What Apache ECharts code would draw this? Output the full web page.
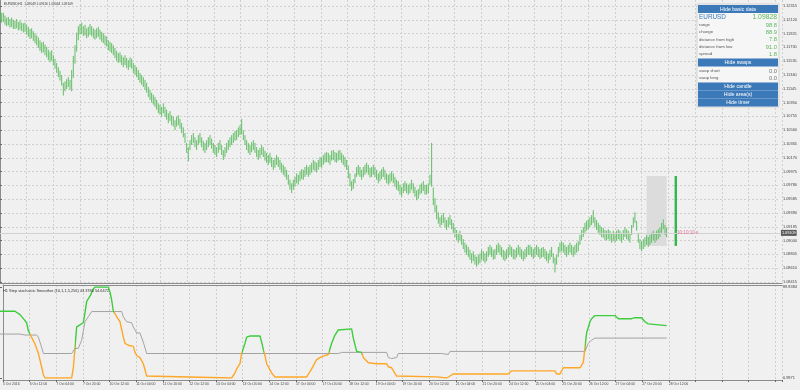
<!DOCTYPE html>
<html><head><meta charset="utf-8">
<script src="https://cdn.jsdelivr.net/npm/echarts@6/dist/echarts.min.js"></script>
<style>html,body{margin:0;padding:0;background:#f0f0f0;}#c{width:800px;height:390px;}</style>
</head><body><div id="c"></div><script>
// ---------------- DATA ----------------
const tickLabels = ['5 Oct 2016','6 Oct 12:00','7 Oct 04:00','7 Oct 20:00','10 Oct 12:00','11 Oct 04:00','11 Oct 20:00','12 Oct 12:00','13 Oct 04:00','13 Oct 20:00','14 Oct 12:00','17 Oct 04:00','17 Oct 20:00','18 Oct 12:00','19 Oct 04:00','19 Oct 20:00','20 Oct 12:00','21 Oct 04:00','21 Oct 20:00','24 Oct 12:00','25 Oct 04:00','25 Oct 20:00','26 Oct 12:00','27 Oct 04:00','27 Oct 20:00','28 Oct 12:00'];
const barsPerLabel = 16;
const priceTickMin = 1.08415, priceTickMax = 1.12315, priceTickStep = 0.00195;
const stochMin = 6.9971, stochMax = 89.8384;

const priceHigh = [
1.1224,1.1222,1.1222,1.1218,1.1215,1.1216,1.1213,1.1215,1.1212,1.1211,1.1213,1.1209,1.1211,1.1208,1.1207,1.1208,
1.1205,1.1202,1.1199,1.1200,1.1196,1.1193,1.1190,1.1187,1.1183,1.1180,1.1181,1.1177,1.1174,1.1170,1.1167,1.1169,
1.1162,1.1157,1.1151,1.1145,1.1140,1.1134,1.1123,1.1125,1.1128,1.1131,1.1127,1.1141,1.1161,1.1176,1.1194,1.1203,
1.1206,1.1208,1.1203,1.1205,1.1200,1.1202,1.1206,1.1203,1.1200,1.1198,1.1200,1.1202,1.1198,1.1195,1.1193,1.1190,
1.1188,1.1183,1.1181,1.1179,1.1176,1.1172,1.1168,1.1165,1.1166,1.1162,1.1159,1.1162,1.1158,1.1155,1.1159,1.1157,
1.1151,1.1148,1.1145,1.1141,1.1137,1.1134,1.1131,1.1127,1.1123,1.1117,1.1113,1.1109,1.1106,1.1103,1.1099,1.1094,
1.1092,1.1089,1.1094,1.1089,1.1085,1.1080,1.1083,1.1077,1.1075,1.1070,1.1075,1.1077,1.1072,1.1066,1.1060,1.1052,
1.1038,1.1032,1.1042,1.1049,1.1052,1.1046,1.1042,1.1049,1.1052,1.1046,1.1041,1.1038,1.1042,1.1046,1.1049,1.1044,
1.1038,1.1035,1.1032,1.1038,1.1042,1.1035,1.1028,1.1032,1.1038,1.1042,1.1046,1.1049,1.1052,1.1055,1.1056,1.1060,
1.1063,1.1072,1.1056,1.1049,1.1042,1.1038,1.1035,1.1039,1.1042,1.1038,1.1032,1.1028,1.1031,1.1035,1.1032,1.1027,
1.1024,1.1021,1.1024,1.1018,1.1014,1.1017,1.1021,1.1018,1.1014,1.1010,1.1007,1.1004,1.1000,1.0993,1.0986,1.0981,
1.0986,1.0990,1.0995,1.0993,1.0998,1.1001,1.1000,1.1004,1.1007,1.1004,1.1007,1.1010,1.1014,1.1012,1.1010,1.1014,
1.1018,1.1017,1.1021,1.1024,1.1025,1.1024,1.1021,1.1027,1.1028,1.1025,1.1024,1.1027,1.1028,1.1024,1.1021,1.1018,
1.1014,1.1006,1.0995,1.0984,1.0987,1.0995,1.1004,1.1007,1.1004,1.1000,1.1004,1.1007,1.1010,1.1007,1.1003,1.1004,
1.1007,1.1004,1.1000,1.0995,1.0998,1.1001,1.1004,1.1000,1.0995,1.0993,1.0995,1.0998,1.0995,1.0990,1.0986,1.0984,
1.0979,1.0976,1.0981,1.0984,1.0981,1.0979,1.0981,1.0986,1.0981,1.0976,1.0971,1.0973,1.0979,1.0981,1.0984,1.0979,
1.0979,1.0981,1.0993,1.1038,1.0975,1.0960,1.0950,1.0940,1.0933,1.0936,1.0939,1.0933,1.0929,1.0933,1.0936,1.0930,
1.0925,1.0919,1.0915,1.0911,1.0914,1.0908,1.0902,1.0897,1.0894,1.0891,1.0887,1.0882,1.0885,1.0880,1.0877,1.0880,
1.0882,1.0887,1.0885,1.0882,1.0885,1.0891,1.0894,1.0891,1.0887,1.0888,1.0894,1.0897,1.0894,1.0891,1.0887,1.0885,
1.0888,1.0891,1.0894,1.0891,1.0888,1.0887,1.0890,1.0894,1.0891,1.0888,1.0885,1.0888,1.0891,1.0894,1.0894,1.0891,
1.0888,1.0891,1.0894,1.0891,1.0888,1.0890,1.0891,1.0888,1.0885,1.0882,1.0887,1.0891,1.0882,1.0876,1.0880,1.0891,
1.0897,1.0899,1.0897,1.0894,1.0891,1.0894,1.0897,1.0894,1.0891,1.0894,1.0897,1.0899,1.0908,1.0915,1.0919,1.0925,
1.0928,1.0930,1.0933,1.0936,1.0943,1.0933,1.0929,1.0925,1.0922,1.0919,1.0918,1.0915,1.0914,1.0916,1.0914,1.0911,
1.0914,1.0911,1.0914,1.0916,1.0914,1.0911,1.0915,1.0919,1.0916,1.0914,1.0911,1.0922,1.0933,1.0940,1.0928,1.0911,
1.0902,1.0899,1.0902,1.0905,1.0908,1.0905,1.0908,1.0911,1.0914,1.0911,1.0914,1.0916,1.0919,1.0925,1.0930,1.0922,
1.0919];
const priceLow = [
1.1210,1.1208,1.1209,1.1205,1.1203,1.1204,1.1201,1.1202,1.1199,1.1199,1.1200,1.1197,1.1198,1.1196,1.1194,1.1195,
1.1191,1.1188,1.1185,1.1186,1.1182,1.1179,1.1176,1.1172,1.1168,1.1165,1.1166,1.1162,1.1159,1.1155,1.1152,1.1154,
1.1148,1.1143,1.1137,1.1131,1.1126,1.1119,1.1105,1.1111,1.1114,1.1117,1.1113,1.1111,1.1130,1.1150,1.1167,1.1183,
1.1191,1.1192,1.1189,1.1190,1.1186,1.1188,1.1191,1.1189,1.1186,1.1184,1.1186,1.1188,1.1184,1.1181,1.1179,1.1176,
1.1174,1.1169,1.1167,1.1165,1.1162,1.1158,1.1154,1.1151,1.1152,1.1148,1.1145,1.1148,1.1144,1.1141,1.1145,1.1143,
1.1137,1.1134,1.1131,1.1127,1.1123,1.1120,1.1117,1.1113,1.1109,1.1103,1.1099,1.1095,1.1092,1.1089,1.1085,1.1080,
1.1078,1.1075,1.1080,1.1075,1.1071,1.1066,1.1069,1.1063,1.1061,1.1056,1.1061,1.1063,1.1058,1.1052,1.1046,1.1038,
1.1024,1.1012,1.1028,1.1035,1.1038,1.1032,1.1028,1.1035,1.1038,1.1032,1.1027,1.1024,1.1028,1.1032,1.1035,1.1030,
1.1024,1.1021,1.1018,1.1024,1.1028,1.1021,1.1014,1.1018,1.1024,1.1028,1.1032,1.1035,1.1038,1.1041,1.1042,1.1046,
1.1049,1.1050,1.1042,1.1035,1.1028,1.1024,1.1021,1.1025,1.1028,1.1024,1.1018,1.1014,1.1017,1.1021,1.1018,1.1013,
1.1010,1.1007,1.1010,1.1004,1.1000,1.1003,1.1007,1.1004,1.1000,1.0996,1.0993,1.0990,1.0986,1.0979,1.0972,1.0967,
1.0972,1.0976,1.0981,1.0979,1.0984,1.0987,1.0986,1.0990,1.0993,1.0990,1.0993,1.0996,1.1000,1.0998,1.0996,1.1000,
1.1004,1.1003,1.1007,1.1010,1.1011,1.1010,1.1007,1.1013,1.1014,1.1011,1.1010,1.1013,1.1014,1.1010,1.1007,1.1004,
1.1000,1.0988,1.0977,1.0970,1.0973,1.0981,1.0990,1.0993,1.0990,1.0986,1.0990,1.0993,1.0996,1.0993,1.0989,1.0990,
1.0993,1.0990,1.0986,1.0981,1.0984,1.0987,1.0990,1.0986,1.0981,1.0979,1.0981,1.0984,1.0981,1.0976,1.0972,1.0970,
1.0965,1.0962,1.0967,1.0970,1.0967,1.0965,1.0967,1.0972,1.0967,1.0962,1.0957,1.0959,1.0965,1.0967,1.0970,1.0965,
1.0965,1.0967,1.0979,1.0976,1.0950,1.0940,1.0930,1.0924,1.0919,1.0922,1.0925,1.0919,1.0915,1.0919,1.0922,1.0916,
1.0911,1.0905,1.0901,1.0897,1.0900,1.0894,1.0888,1.0883,1.0880,1.0877,1.0873,1.0868,1.0871,1.0866,1.0863,1.0866,
1.0868,1.0873,1.0871,1.0868,1.0871,1.0877,1.0880,1.0877,1.0873,1.0874,1.0880,1.0883,1.0880,1.0877,1.0873,1.0871,
1.0874,1.0877,1.0880,1.0877,1.0874,1.0873,1.0876,1.0880,1.0877,1.0874,1.0871,1.0874,1.0877,1.0880,1.0880,1.0877,
1.0874,1.0877,1.0880,1.0877,1.0874,1.0876,1.0877,1.0874,1.0871,1.0868,1.0873,1.0877,1.0868,1.0855,1.0866,1.0877,
1.0883,1.0885,1.0883,1.0880,1.0877,1.0880,1.0883,1.0880,1.0877,1.0880,1.0883,1.0885,1.0894,1.0901,1.0905,1.0911,
1.0914,1.0916,1.0919,1.0922,1.0925,1.0919,1.0915,1.0911,1.0908,1.0905,1.0904,1.0901,1.0900,1.0902,1.0900,1.0897,
1.0900,1.0897,1.0900,1.0902,1.0900,1.0897,1.0901,1.0905,1.0902,1.0900,1.0897,1.0908,1.0919,1.0925,1.0914,1.0897,
1.0888,1.0885,1.0888,1.0891,1.0894,1.0891,1.0894,1.0897,1.0900,1.0897,1.0900,1.0902,1.0905,1.0911,1.0916,1.0908,
1.0905];

const bidPrice = 1.09109;
const dayHigh = 1.09913, dayLow = 1.08925;
const todayBars = 13;

// Step stochastic smoother: [bar index, value]
const stochMain = [[0,67.8],[9,67.8],[12,64.7],[14,61.0],[16,57.3],[17,50.0],[18,47.0],[19,44.0],[21,38.0],[23,29.5],[25,17.0],[26,10.0],[27,7.0],[43,7.0],[44,16.3],[45,35.0],[46,53.5],[48,55.4],[50,57.3],[51,66.6],[52,76.8],[54,81.5],[56,88.0],[57,89.84],[65,89.84],[66,85.2],[67,78.0],[68,68.0],[70,62.8],[72,58.2],[74,44.2],[75,38.6],[77,36.8],[80,35.8],[81,30.3],[82,27.5],[84,25.6],[86,20.0],[88,8.8],[89,7.0],[139,7.0],[141,11.6],[142,15.3],[144,20.0],[145,29.3],[147,38.6],[148,44.2],[150,45.2],[156,45.2],[157,39.6],[158,33.0],[159,27.5],[160,20.0],[163,11.6],[165,7.9],[184,7.9],[187,15.3],[189,21.0],[190,23.7],[193,26.5],[194,27.5],[197,28.4],[199,38.6],[201,46.1],[203,50.7],[204,51.7],[211,51.7],[212,43.3],[214,31.2],[217,30.3],[218,25.6],[221,20.9],[226,20.0],[232,20.0],[233,17.2],[235,16.3],[238,8.8],[239,8.0],[262,8.0],[263,7.0],[268,7.0],[270,8.8],[272,10.7],[305,10.7],[307,13.5],[333,13.5],[334,10.7],[336,10.7],[338,16.3],[348,16.3],[350,21.0],[351,34.9],[352,48.0],[354,58.2],[355,61.0],[357,63.8],[369,63.8],[371,61.0],[379,61.0],[381,61.9],[385,61.9],[387,58.2],[389,56.3],[390,55.4],[400,54.6472]];
const stochSignal = [[0,47.0],[12,47.0],[15,46.1],[22,46.1],[23,44.2],[25,34.9],[26,29.3],[43,29.3],[45,34.0],[47,34.0],[49,41.4],[51,58.2],[53,62.8],[55,67.5],[73,67.5],[74,62.8],[76,58.2],[79,57.3],[80,53.5],[82,48.0],[84,48.0],[86,39.6],[88,29.3],[203,29.3],[205,30.3],[232,30.3],[233,25.6],[235,24.7],[238,25.6],[239,29.3],[265,29.3],[266,28.4],[269,28.4],[270,31.2],[351,31.2],[353,38.6],[355,41.4],[357,43.3],[400,43.378]];

const chartTitle = 'EURUSD,H1  1.09049 1.09116 1.09044 1.09109';
const indTitle = 'H1 Step stochastic Smoother (10,1,1,5,256) 43.3780 54.6472';
const timerText = '10:10:10 s';
const panelSymbol = 'EURUSD', panelPrice = '1.09828';
const basicRows = [['range','98.8'],['change','88.9'],['distance from high','7.8'],['distance from low','91.0'],['spread','1.8']];
const swapRows = [['swap short','0.0'],['swap long','0.0']];
const buttons = ['Hide basic data','Hide swaps','Hide candle','Hide area(s)','Hide timer'];

// ---------------- CHART ----------------
const FONT = 'Liberation Sans, DejaVu Sans, sans-serif';
const lastIdx = priceHigh.length - 1;
const X_MAX = 468;
const bars = priceHigh.map((h, i) => [i, priceLow[i], h]);
const GREEN = '#3ccc3c', ORANGE = '#ffa726', BARC = '#62bd66';

function valAt(pts, x) {
  for (let k = 1; k < pts.length; k++) {
    if (x <= pts[k][0]) { const a = pts[k-1], b = pts[k]; return a[1] + (b[1]-a[1]) * (x-a[0]) / (b[0]-a[0]); }
  }
  return pts[pts.length-1][1];
}
const pieces = [];
let prevAbove = valAt(stochMain, 0) > valAt(stochSignal, 0), start = null;
for (let x = 0.05; x <= lastIdx; x += 0.05) {
  const above = valAt(stochMain, x) > valAt(stochSignal, x);
  if (above !== prevAbove) {
    const p = { color: prevAbove ? GREEN : ORANGE, lt: x };
    if (start !== null) p.gte = start;
    pieces.push(p); start = x; prevAbove = above;
  }
}
{ const p = { color: prevAbove ? GREEN : ORANGE }; if (start !== null) p.gte = start; pieces.push(p); }

const L = 0, R = 18;
const dash = { color: '#cfcfcf', type: [2, 2], width: 1 };
const frameLine = { color: '#8c8c8c', width: 1 };
const lblX = { fontSize: 3.4, color: '#444', fontFamily: FONT };
const lblY = { fontSize: 3.9, color: '#444', fontFamily: FONT };

function barItem(params, api) {
  const x = api.value(0);
  const lo = api.coord([x, api.value(1)]);
  const hi = api.coord([x, api.value(2)]);
  const daily = params.seriesIndex === 1;
  return { type: 'line', shape: { x1: lo[0], y1: lo[1], x2: hi[0], y2: hi[1] },
    style: { stroke: daily ? '#32b84c' : BARC, lineWidth: daily ? 2.4 : 1 } };
}

// panel graphics
const PX = 698, PW = 80, ZP = 100;
const g = [];
g.push({ type: 'text', left: 4, top: 3, z: ZP, style: { text: chartTitle, fontSize: 3.2, fill: '#333', fontFamily: FONT } });
g.push({ type: 'text', left: 3, top: 289, z: ZP, style: { text: indTitle, fontSize: 3.9, fill: '#333', fontFamily: FONT } });
g.push({ type: 'rect', z: ZP, shape: { x: PX - 1, y: 4, width: PW + 2, height: 103 }, style: { fill: '#f6f6f6', stroke: '#d2d2d2' } });
function button(txt, y) {
  g.push({ type: 'rect', z: ZP, shape: { x: PX, y: y, width: PW, height: 8 }, style: { fill: '#3b79b9' } });
  g.push({ type: 'text', z: ZP + 1, x: PX + PW / 2, y: y + 4.2, style: { text: txt, fontSize: 5.2, fill: '#fff', align: 'center', verticalAlign: 'middle', fontFamily: FONT } });
}
function row(a, b, y, big, bcol) {
  g.push({ type: 'text', z: ZP + 1, x: PX + 1, y: y, style: { text: a, fontSize: big ? 6.4 : 4.3, fill: big ? '#3b79b9' : '#555', verticalAlign: 'middle', fontFamily: FONT } });
  g.push({ type: 'text', z: ZP + 1, x: PX + PW - 1, y: y, style: { text: b, fontSize: big ? 6.8 : 5.8, fill: bcol, align: 'right', verticalAlign: 'middle', fontFamily: FONT } });
}
button(buttons[0], 5);
row(panelSymbol, panelPrice, 17.5, true, '#5cb85c');
basicRows.forEach((r, i) => row(r[0], r[1], 25 + i * 7.3, false, '#5cb85c'));
button(buttons[1], 58.5);
swapRows.forEach((r, i) => row(r[0], r[1], 71 + i * 7, false, '#777'));
button(buttons[2], 82.5);
button(buttons[3], 90.5);
button(buttons[4], 98.5);

const option = {
  animation: false,
  backgroundColor: '#f0f0f0',
  textStyle: { fontFamily: FONT },
  grid: [
    { left: L, right: R, top: 0, height: 283 },
    { left: L, right: R, top: 6, height: 276 },
    { left: L, right: R, top: 285, height: 95 },
    { left: L, right: R, top: 287, height: 91 }
  ],
  xAxis: [
    { gridIndex: 0, type: 'value', min: 0, max: X_MAX, interval: barsPerLabel, position: 'bottom',
      axisLine: { show: true, lineStyle: frameLine }, axisTick: { show: false }, axisLabel: { show: false },
      splitLine: { show: true, lineStyle: dash } },
    { gridIndex: 1, type: 'value', min: 0, max: X_MAX, show: false },
    { gridIndex: 2, type: 'value', min: 0, max: X_MAX, interval: barsPerLabel, position: 'bottom',
      axisLine: { show: true, lineStyle: frameLine }, axisTick: { show: true, length: 2, lineStyle: { color: '#666' } },
      axisLabel: Object.assign({ align: 'left', margin: 3, formatter: (v) => { const k = Math.round(v / barsPerLabel); return (v % barsPerLabel === 0 && k < tickLabels.length) ? tickLabels[k] : ''; } }, lblX),
      splitLine: { show: true, lineStyle: dash } },
    { gridIndex: 2, type: 'value', min: 0, max: X_MAX, position: 'top',
      axisLine: { show: true, lineStyle: frameLine }, axisTick: { show: false }, axisLabel: { show: false }, splitLine: { show: false } },
    { gridIndex: 3, type: 'value', min: 0, max: X_MAX, show: false }
  ],
  yAxis: [
    { gridIndex: 0, type: 'value', min: 0, max: 1, position: 'right', axisLine: { show: true, lineStyle: frameLine },
      axisTick: { show: false }, axisLabel: { show: false }, splitLine: { show: false } },
    { gridIndex: 1, type: 'value', min: priceTickMin, max: priceTickMax, interval: priceTickStep, position: 'right',
      axisLine: { show: false }, axisTick: { show: true, length: 2, lineStyle: { color: '#666' } },
      axisLabel: Object.assign({ margin: 3, formatter: (v) => v.toFixed(5) }, lblY),
      splitLine: { show: true, lineStyle: dash } },
    { gridIndex: 2, type: 'value', min: 0, max: 1, position: 'right', axisLine: { show: true, lineStyle: frameLine },
      axisTick: { show: false }, axisLabel: { show: false }, splitLine: { show: false } },
    { gridIndex: 3, type: 'value', min: stochMin, max: stochMax, interval: stochMax - stochMin, position: 'right',
      axisLine: { show: false }, axisTick: { show: true, length: 2, lineStyle: { color: '#666' } },
      axisLabel: Object.assign({ margin: 3, formatter: (v) => v.toFixed(4) }, lblY),
      splitLine: { show: false } }
  ],
  visualMap: [{ show: false, type: 'piecewise', dimension: 0, seriesIndex: 4, pieces: pieces }],
  graphic: { elements: g },
  series: [
    { type: 'custom', xAxisIndex: 1, yAxisIndex: 1, data: bars, renderItem: barItem, z: 3, silent: true },
    { type: 'custom', xAxisIndex: 1, yAxisIndex: 1, data: [[lastIdx + 5.5, dayLow, dayHigh]], renderItem: barItem, z: 3, silent: true },
    { type: 'line', xAxisIndex: 1, yAxisIndex: 1, data: [[lastIdx, bidPrice]], symbol: 'none', silent: true, z: 1,
      lineStyle: { opacity: 0 },
      markLine: { symbol: 'none', silent: true, animation: false, precision: 5, data: [{ yAxis: bidPrice }],
        lineStyle: { color: '#d2d2d2', type: 'solid', width: 1 },
        label: { position: 'end', formatter: bidPrice.toFixed(5), backgroundColor: '#5a5a5a', color: '#fff', fontSize: 3.8, padding: [1, 1], distance: 1, fontFamily: FONT } },
      markArea: { silent: true, itemStyle: { color: '#dcdcdc' },
        data: [[{ xAxis: lastIdx - todayBars + 1, yAxis: dayHigh }, { xAxis: lastIdx, yAxis: dayLow }]] },
      markPoint: { symbol: 'circle', symbolSize: 0, silent: true, data: [{ coord: [lastIdx + 6.2, bidPrice] }],
        label: { show: true, position: 'right', distance: 0, formatter: timerText, color: '#e0709a', fontSize: 4.6, fontFamily: FONT } } },
    { type: 'line', xAxisIndex: 4, yAxisIndex: 3, data: stochSignal, symbol: 'none', silent: true,
      lineStyle: { color: '#a3a3a3', width: 1 } },
    { type: 'line', xAxisIndex: 4, yAxisIndex: 3, data: stochMain, symbol: 'none', silent: true,
      lineStyle: { width: 1.4 } }
  ]
};
const chart = echarts.init(document.getElementById('c'), null, { renderer: 'canvas' });
chart.setOption(option);
</script></body></html>
